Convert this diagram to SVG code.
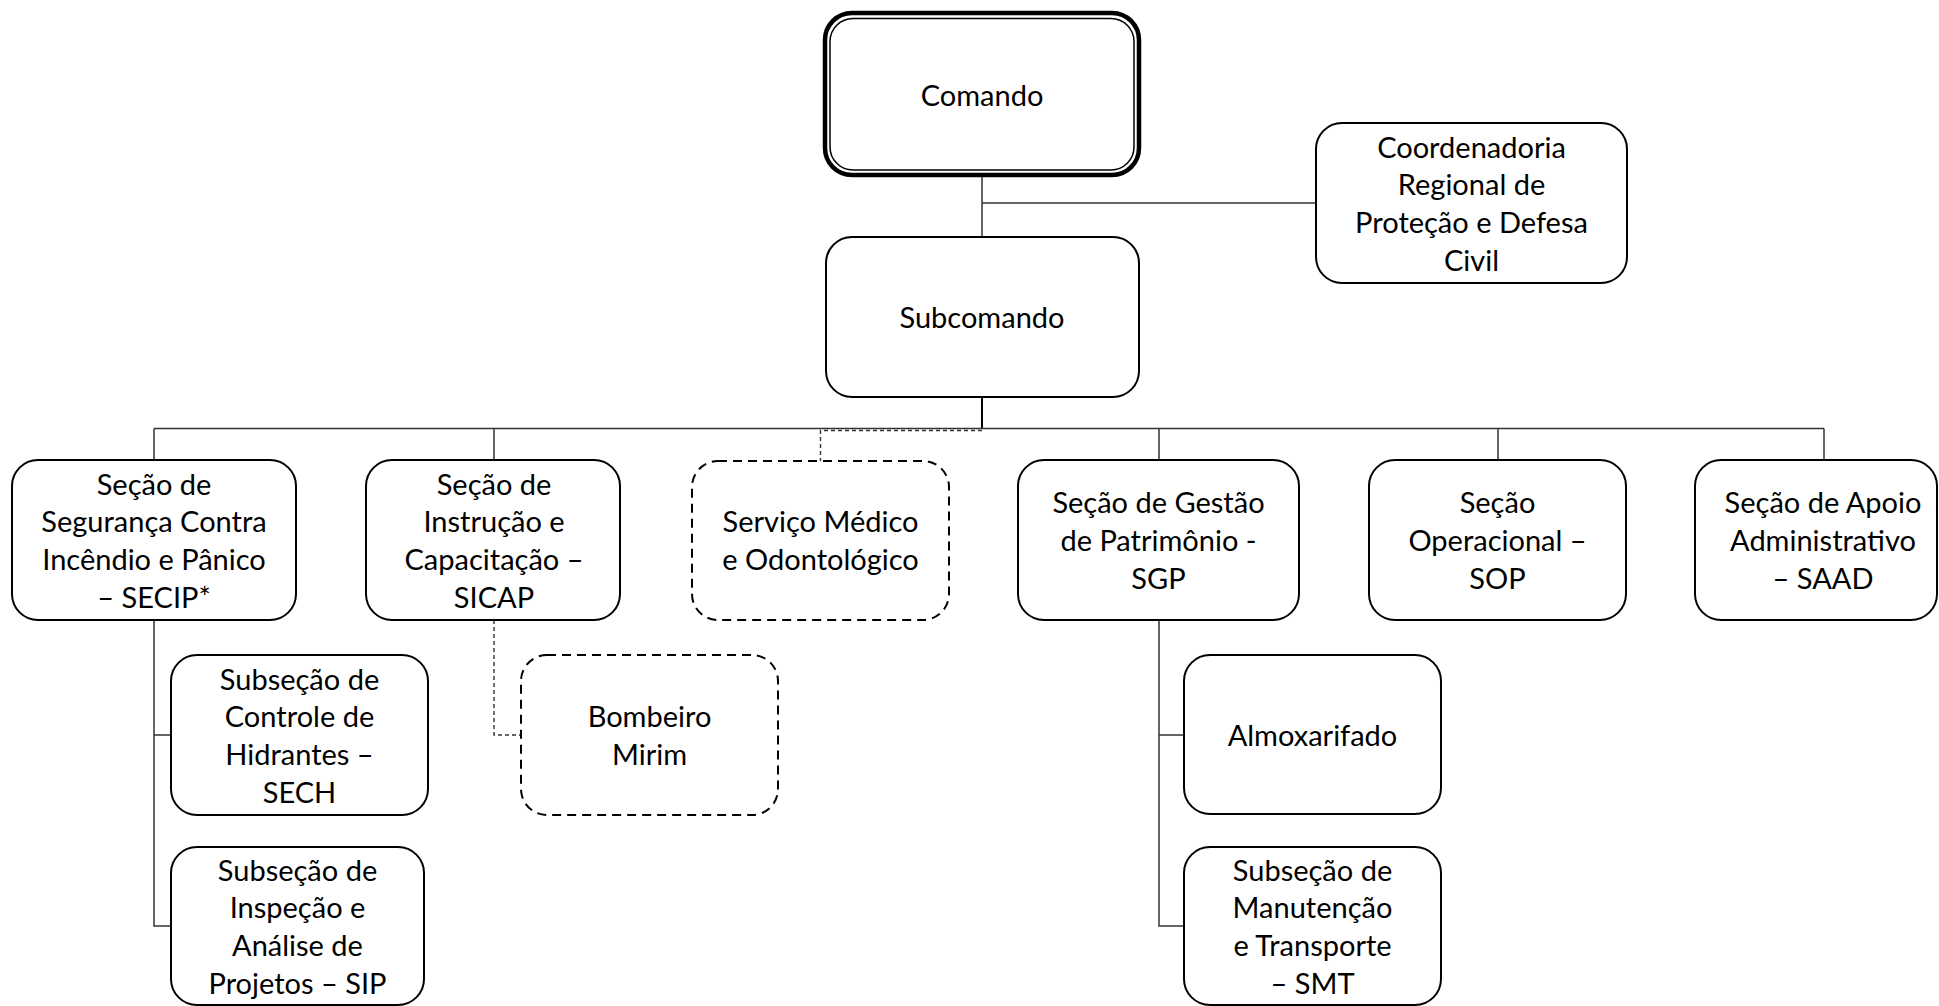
<svg xmlns="http://www.w3.org/2000/svg" width="1939" height="1006" viewBox="0 0 1939 1006">
<style>
  .box { fill: #ffffff; stroke: #000000; stroke-width: 2; }
  .dbox { fill: #ffffff; stroke: #000000; stroke-width: 2; stroke-dasharray: 9 6; }
  .t { font-family: Lato, "Liberation Sans", sans-serif; font-size: 29px; fill: #000000; text-anchor: middle; }
  .c { fill: none; stroke: #333333; stroke-width: 1.5; }
  .cd { fill: none; stroke: #333333; stroke-width: 1.4; stroke-dasharray: 4 3; }
</style>
<rect width="1939" height="1006" fill="#ffffff"/>
<g id="connectors">
  <path class="c" d="M982,175 V237"/>
  <path class="c" d="M982,203 H1316"/>
  <path class="c" style="stroke:#000;stroke-width:2" d="M982,397 V428.5"/>
  <path class="c" d="M154,428.5 H1824"/>
  <path class="c" d="M154,428.5 V460 M494,428.5 V460 M1159,428.5 V460 M1498,428.5 V460 M1824,428.5 V460"/>
  <path class="cd" d="M982,430.5 H820.5 V461"/>
  <path class="c" d="M154,620 V926 H171 M154,735 H171"/>
  <path class="c" d="M1159,620 V926 H1184 M1159,735 H1184"/>
  <path class="cd" d="M494,620 V735 H521"/>
</g>
<g id="comando">
  <rect x="825" y="13" width="314" height="162" rx="27" fill="#fff" stroke="#000" stroke-width="4.5"/>
  <rect x="830" y="18.5" width="304" height="151.5" rx="23" fill="none" stroke="#000" stroke-width="1.5"/>
  <text class="t" x="982" y="106">Comando</text>
</g>
<g id="coordenadoria">
  <rect class="box" x="1316" y="123" width="311" height="160" rx="26"/>
  <text class="t" x="1471.5" y="157.5">Coordenadoria</text>
  <text class="t" x="1471.5" y="195.2">Regional de</text>
  <text class="t" x="1471.5" y="232.9">Proteção e Defesa</text>
  <text class="t" x="1471.5" y="270.6">Civil</text>
</g>
<g id="subcomando">
  <rect class="box" x="826" y="237" width="313" height="160" rx="26"/>
  <text class="t" x="982" y="328">Subcomando</text>
</g>
<g id="secip">
  <rect class="box" x="12" y="460" width="284" height="160" rx="26"/>
  <text class="t" x="154" y="494.5">Seção de</text>
  <text class="t" x="154" y="532.2">Segurança Contra</text>
  <text class="t" x="154" y="569.9">Incêndio e Pânico</text>
  <text class="t" x="154" y="607.6">– SECIP*</text>
</g>
<g id="sicap">
  <rect class="box" x="366" y="460" width="254" height="160" rx="26"/>
  <text class="t" x="494" y="494.5">Seção de</text>
  <text class="t" x="494" y="532.2">Instrução e</text>
  <text class="t" x="494" y="569.9">Capacitação –</text>
  <text class="t" x="494" y="607.6">SICAP</text>
</g>
<g id="servico-medico">
  <rect class="dbox" x="692" y="461" width="257" height="159" rx="26"/>
  <text class="t" x="820.5" y="532.2">Serviço Médico</text>
  <text class="t" x="820.5" y="569.9">e Odontológico</text>
</g>
<g id="sgp">
  <rect class="box" x="1018" y="460" width="281" height="160" rx="26"/>
  <text class="t" x="1158.5" y="513.3">Seção de Gestão</text>
  <text class="t" x="1158.5" y="551">de Patrimônio -</text>
  <text class="t" x="1158.5" y="588.7">SGP</text>
</g>
<g id="sop">
  <rect class="box" x="1369" y="460" width="257" height="160" rx="26"/>
  <text class="t" x="1497.5" y="513.3">Seção</text>
  <text class="t" x="1497.5" y="551">Operacional –</text>
  <text class="t" x="1497.5" y="588.7">SOP</text>
</g>
<g id="saad">
  <rect class="box" x="1695" y="460" width="242" height="160" rx="26"/>
  <text class="t" x="1823" y="513.3">Seção de Apoio</text>
  <text class="t" x="1823" y="551">Administrativo</text>
  <text class="t" x="1823" y="588.7">– SAAD</text>
</g>
<g id="sech">
  <rect class="box" x="171" y="655" width="257" height="160" rx="26"/>
  <text class="t" x="299.5" y="689.5">Subseção de</text>
  <text class="t" x="299.5" y="727.2">Controle de</text>
  <text class="t" x="299.5" y="764.9">Hidrantes –</text>
  <text class="t" x="299.5" y="802.6">SECH</text>
</g>
<g id="sip">
  <rect class="box" x="171" y="847" width="253" height="158" rx="26"/>
  <text class="t" x="297.5" y="880.5">Subseção de</text>
  <text class="t" x="297.5" y="918.2">Inspeção e</text>
  <text class="t" x="297.5" y="955.9">Análise de</text>
  <text class="t" x="297.5" y="993.6">Projetos – SIP</text>
</g>
<g id="bombeiro-mirim">
  <rect class="dbox" x="521" y="655" width="257" height="160" rx="26"/>
  <text class="t" x="649.5" y="727.2">Bombeiro</text>
  <text class="t" x="649.5" y="764.9">Mirim</text>
</g>
<g id="almoxarifado">
  <rect class="box" x="1184" y="655" width="257" height="159" rx="26"/>
  <text class="t" x="1312.5" y="746">Almoxarifado</text>
</g>
<g id="smt">
  <rect class="box" x="1184" y="847" width="257" height="158" rx="26"/>
  <text class="t" x="1312.5" y="880.5">Subseção de</text>
  <text class="t" x="1312.5" y="918.2">Manutenção</text>
  <text class="t" x="1312.5" y="955.9">e Transporte</text>
  <text class="t" x="1312.5" y="993.6">– SMT</text>
</g>
</svg>
